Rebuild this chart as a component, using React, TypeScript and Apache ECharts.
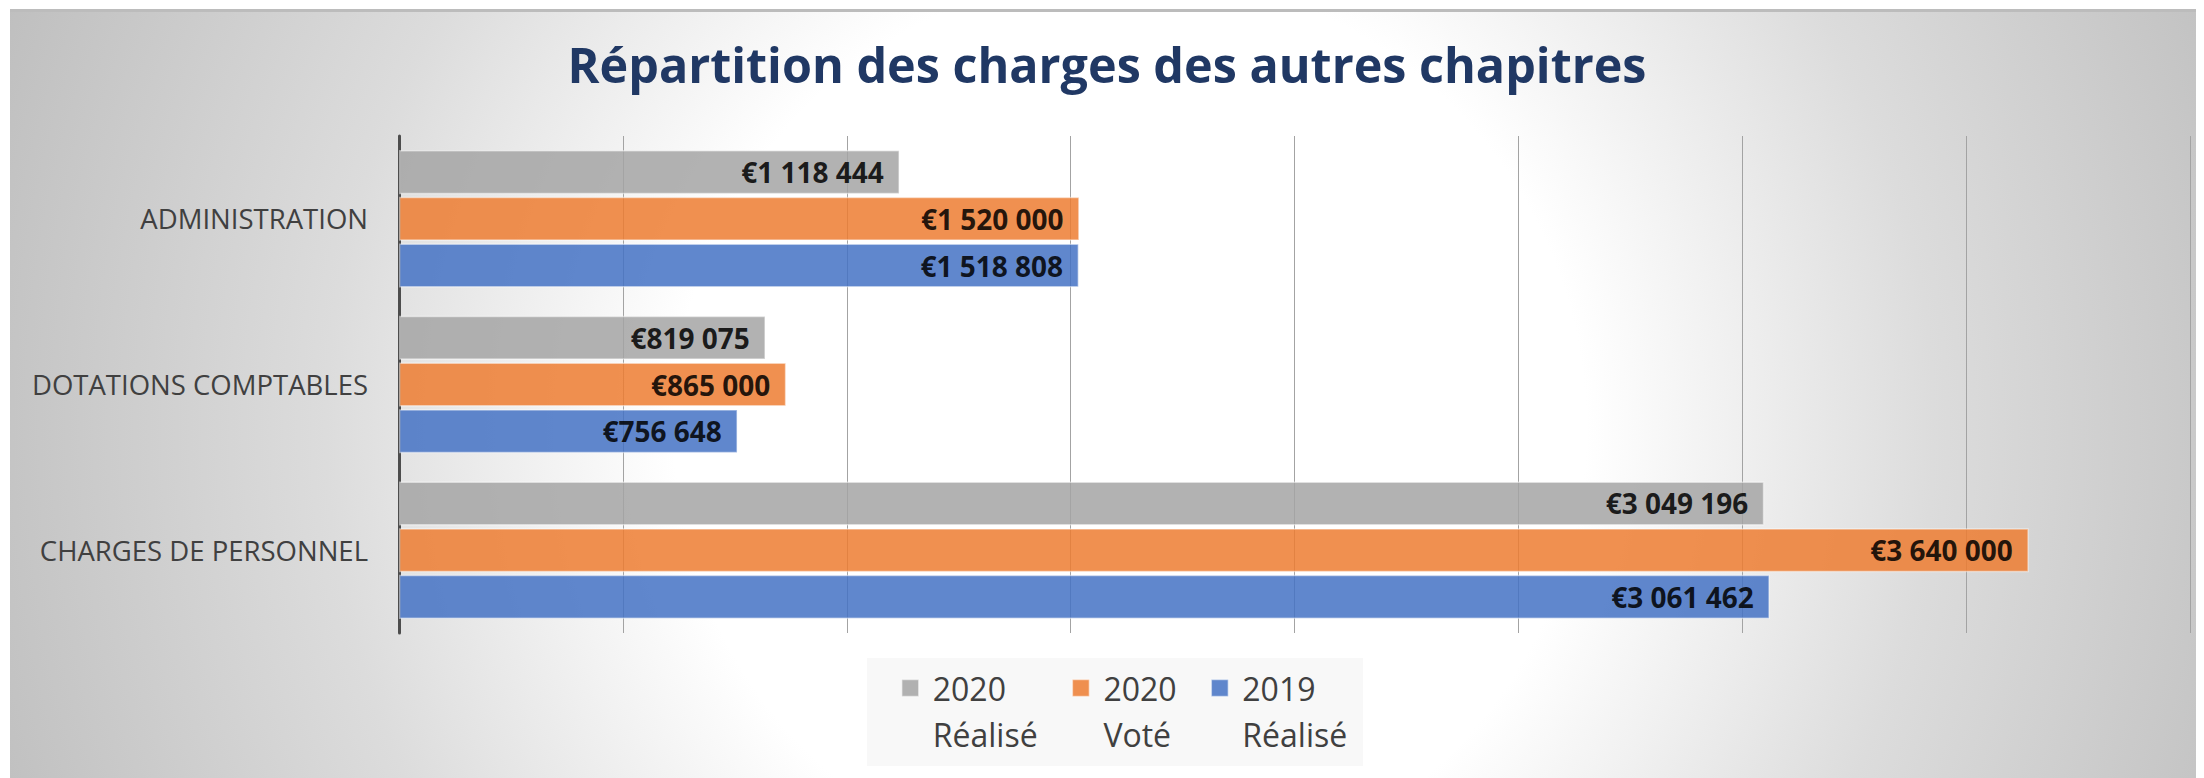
import React, { useEffect, useRef } from "react";
import * as echarts from "echarts";

const titleText = "Répartition des charges des autres chapitres";
const categories = ["ADMINISTRATION", "DOTATIONS COMPTABLES", "CHARGES DE PERSONNEL"];
const seriesNames = ["2020\nRéalisé", "2020\nVoté", "2019\nRéalisé"];
const realise2020 = [1118444, 819075, 3049196];
const vote2020 = [1520000, 865000, 3640000];
const realise2019 = [1518808, 756648, 3061462];
const seriesColors = ["#a5a5a5", "#ed7d31", "#4472c4"];
const axisMin = 0;
const axisMax = 4000000;
const axisInterval = 500000;

const W = 2194;
const H = 769;

function fmtEuro(v: number): string {
  const s = Math.round(v).toString().replace(/\B(?=(\d{3})+(?!\d))/g, " ");
  return "€" + s;
}

export default function App() {
  const ref = useRef<HTMLDivElement>(null);
  useEffect(() => {
    document.body.style.overflow = "hidden";
    if (!ref.current) return;
    const chart = echarts.init(ref.current, undefined, { renderer: "svg" });
    const values = [realise2020, vote2020, realise2019];
    const font = "'Open Sans', 'Noto Sans', sans-serif";
    chart.setOption({
      animation: false,
      graphic: [
        {
          type: "rect",
          silent: true,
          z: -100,
          shape: { x: 0, y: 0, width: W, height: H },
          style: {
            fill: new echarts.graphic.RadialGradient(
              1120,
              420,
              1200,
              [
                { offset: 0, color: "#ffffff" },
                { offset: 0.38, color: "#ffffff" },
                { offset: 0.67, color: "#dcdcdc" },
                { offset: 0.84, color: "#cdcdcd" },
                { offset: 1, color: "#bfbfbf" },
              ],
              true
            ),
          },
        },
        {
          type: "rect",
          silent: true,
          z: -99,
          shape: { x: 0, y: 0, width: W, height: 3 },
          style: { fill: "#bcbcbc" },
        },
        {
          type: "rect",
          silent: true,
          z: -98,
          shape: { x: 857, y: 649, width: 496, height: 108 },
          style: { fill: "#f8f8f8" },
        },
      ],
      title: {
        text: titleText,
        left: "center",
        top: 30,
        padding: [0, 0, 0, 12],
        textStyle: {
          fontFamily: font,
          fontWeight: "bold",
          fontSize: 48.5,
          color: "#203864",
        },
      },
      legend: {
        left: 891,
        top: 610,
        padding: 0,
        itemWidth: 17,
        itemHeight: 17,
        itemGap: 34,
        icon: "rect",
        selectedMode: false,
        itemStyle: { borderColor: "rgba(255,255,255,0.6)", borderWidth: 1.5 },
        formatter: (name: string) => " \n" + name,
        textStyle: {
          fontFamily: font,
          fontSize: 32,
          color: "#404040",
          lineHeight: 46,
          padding: [0, 0, 0, 9],
        },
        data: seriesNames,
      },
      grid: { left: 389, right: 14, top: 127, bottom: 145, containLabel: false },
      xAxis: {
        type: "value",
        min: axisMin,
        max: axisMax,
        interval: axisInterval,
        axisLine: { show: false },
        axisTick: { show: false },
        axisLabel: { show: false },
        splitLine: { show: true, lineStyle: { color: "#a3a3a3", width: 1 } },
      },
      yAxis: {
        type: "category",
        inverse: true,
        data: categories,
        axisLine: { show: true, lineStyle: { color: "#4d4d4d", width: 3 } },
        axisTick: { show: false },
        axisLabel: {
          fontFamily: font,
          fontSize: 27.5,
          color: "#404040",
          margin: 31,
        },
      },
      series: seriesNames.map((name, i) => ({
        name,
        type: "bar",
        data: values[i],
        barCategoryGap: "17%",
        barGap: "6%",
        itemStyle: {
          color: seriesColors[i],
          opacity: 0.85,
          borderColor: "rgba(255,255,255,0.55)",
          borderWidth: 1.5,
        },
        label: {
          show: true,
          position: "insideRight",
          distance: 16,
          formatter: (p: any) => fmtEuro(p.value),
          fontFamily: font,
          fontWeight: "bold",
          fontSize: 28,
          color: "#000000",
        },
      })),
    });
    return () => chart.dispose();
  }, []);
  return (
    <div
      ref={ref}
      style={{ width: W, height: H, marginLeft: 2, marginTop: 1 }}
    />
  );
}
